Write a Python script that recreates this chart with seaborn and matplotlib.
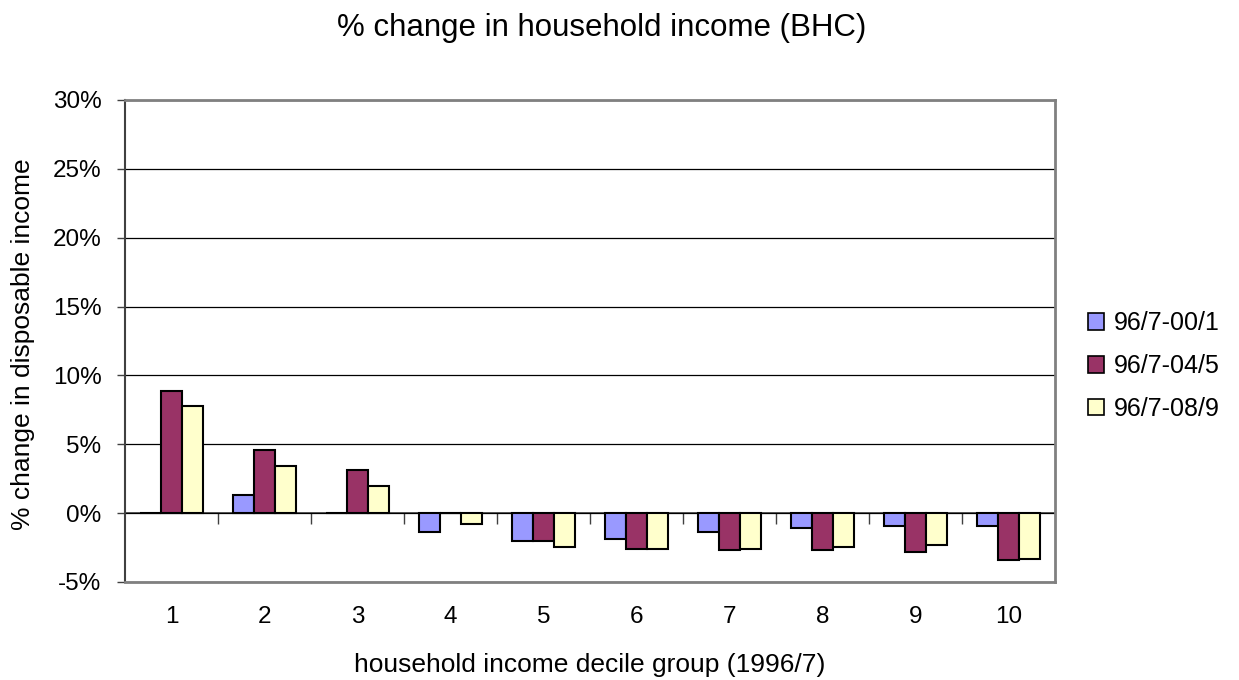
import matplotlib
matplotlib.use("Agg")
import matplotlib.pyplot as plt
import seaborn as sns
import pandas as pd
from matplotlib.ticker import FuncFormatter, FixedLocator
from matplotlib.patches import Patch

deciles = ["1", "2", "3", "4", "5", "6", "7", "8", "9", "10"]
periods = ["96/7-00/1", "96/7-04/5", "96/7-08/9"]
change_00_01 = [0.0, 1.3, 0.0, -1.4, -2.0, -1.9, -1.4, -1.1, -0.9, -0.9]
change_04_05 = [8.9, 4.55, 3.1, 0.0, -2.0, -2.6, -2.7, -2.7, -2.85, -3.4]
change_08_09 = [7.8, 3.4, 2.0, -0.8, -2.45, -2.6, -2.6, -2.45, -2.3, -3.3]
colors = ["#9999FF", "#993366", "#FFFFCC"]

df = pd.DataFrame({
    "decile": deciles * 3,
    "period": [p for p in periods for _ in deciles],
    "value": change_00_01 + change_04_05 + change_08_09,
})

sns.set_style("white")
plt.rcParams["font.family"] = ["Liberation Sans", "DejaVu Sans"]
plt.rcParams["text.color"] = "black"
plt.rcParams["axes.labelcolor"] = "black"
plt.rcParams["xtick.color"] = "black"
plt.rcParams["ytick.color"] = "black"

W, H = 1239, 680
fig = plt.figure(figsize=(W / 100, H / 100), dpi=100)
ax = fig.add_axes([125 / W, 1 - 582 / H, 930 / W, 482 / H])

sns.barplot(data=df, x="decile", y="value", hue="period", order=deciles,
            hue_order=periods, palette=colors, width=0.68, edgecolor="black",
            linewidth=1.5, saturation=1, ax=ax, legend=False)

ax.set_ylim(-5, 30)
ax.set_xlim(-0.5, 9.5)
ax.yaxis.set_major_locator(FixedLocator(range(-5, 31, 5)))
ax.yaxis.set_major_formatter(FuncFormatter(lambda v, _: f"{v:.0f}%"))
ax.grid(axis="y", color="black", linewidth=0.9)
ax.set_axisbelow(True)

for side in ["top", "right", "bottom"]:
    ax.spines[side].set_color("#808080")
    ax.spines[side].set_linewidth(2)
ax.spines["left"].set_color("#404040")
ax.spines["left"].set_linewidth(1.5)

ax.tick_params(axis="y", direction="out", length=6, width=1, color="#404040",
               labelsize=17.5, pad=11, left=True)
ax.tick_params(axis="x", length=0, labelsize=17.5, pad=17)

# category axis drawn along the zero line, ticks between groups
zero_frac = 5 / 35
sec = ax.secondary_xaxis(zero_frac)
sec.set_xticks([i + 0.5 for i in range(len(deciles) - 1)])
sec.set_xticklabels([])
sec.tick_params(axis="x", direction="out", length=8, width=1, color="#404040")
sec.spines["bottom"].set_color("#404040")
sec.spines["bottom"].set_linewidth(1.2)

ax.set_xlabel("household income decile group (1996/7)", fontsize=19)
ax.xaxis.set_label_coords((590 - 125) / 930, (582 - 665) / 482)
ax.xaxis.label.set_va("center")
ax.set_ylabel("% change in disposable income", fontsize=19)
ax.yaxis.set_label_coords((23 - 125) / 930, (582 - 344) / 482)
ax.yaxis.label.set_va("center")

fig.text(602 / W, 1 - 28 / H, "% change in household income (BHC)", ha="center",
         va="center", fontsize=22.5)

handles = [Patch(facecolor=c, edgecolor="black", linewidth=1.2) for c in colors]
fig.legend(handles, periods, loc="center left", bbox_to_anchor=(1088 / W, 1 - 366 / H),
           frameon=False, fontsize=18, handlelength=0.65, handleheight=0.65,
           handletextpad=0.4, labelspacing=0.75, borderpad=0, borderaxespad=0)

fig.savefig("out.png", dpi=100)
